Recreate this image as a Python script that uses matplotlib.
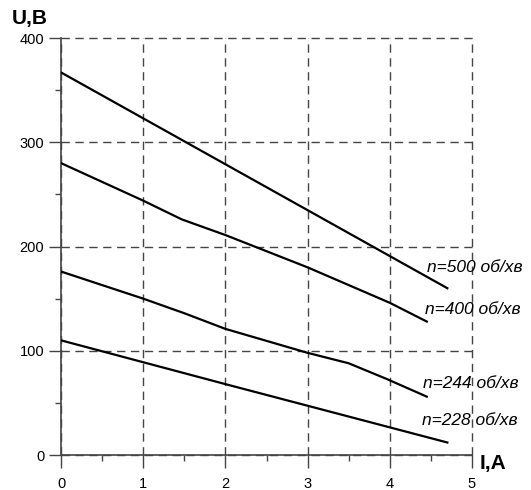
import matplotlib
matplotlib.use("Agg")
import matplotlib.pyplot as plt
from matplotlib.ticker import MultipleLocator

# curves U(I) for different speeds
i_500 = [0, 4.7]
u_500 = [367, 160]

i_400 = [0, 1, 1.47, 2, 3, 4, 4.45]
u_400 = [280, 244, 226, 211, 180, 146, 128]

i_244 = [0, 1, 1.5, 2, 3, 3.5, 3.96, 4.45]
u_244 = [176, 150, 136, 121, 98, 88, 73, 56]

i_228 = [0, 1, 2, 4.7]
u_228 = [110, 89, 68, 12]

labels = ["n=500 об/хв", "n=400 об/хв", "n=244 об/хв", "n=228 об/хв"]
label_x = [4.45, 4.43, 4.40, 4.39]
label_y = [180, 140, 69, 33]

plt.rcParams['font.family'] = ['Liberation Sans', 'DejaVu Sans']

fig = plt.figure(figsize=(5.31, 4.90), dpi=100)
ax = fig.add_axes([0.1149, 0.0714, 0.774, 0.851])

for xs, ys in [(i_500, u_500), (i_400, u_400), (i_244, u_244), (i_228, u_228)]:
    ax.plot(xs, ys, color='black', lw=1.6, zorder=3)

for t, x, y in zip(labels, label_x, label_y):
    ax.text(x, y, t, fontsize=12.5, style='italic', va='center', ha='left')

ax.set_xlim(0, 5)
ax.set_ylim(0, 400)
ax.xaxis.set_major_locator(MultipleLocator(1))
ax.xaxis.set_minor_locator(MultipleLocator(0.5))
ax.yaxis.set_major_locator(MultipleLocator(100))
ax.yaxis.set_minor_locator(MultipleLocator(50))

ax.grid(True, which='major', ls=(0, (6, 4)), color='#444444', lw=1.0)
for gl in ax.get_xgridlines() + ax.get_ygridlines():
    gl.set_clip_on(False)

for s in ['top', 'right']:
    ax.spines[s].set_visible(False)
for s in ['left', 'bottom']:
    ax.spines[s].set_color('#444444')
    ax.spines[s].set_linewidth(1.2)

ax.tick_params(which='major', direction='out', length=9, width=1.0, color='#444444',
               labelsize=10.5, pad=3)
ax.tick_params(which='minor', direction='out', length=4.5, width=1.0, color='#444444')
ax.tick_params(axis='x', pad=7)

fig.text(0.022, 0.962, "U,B", fontsize=15, fontweight='bold', va='center')
fig.text(0.903, 0.055, "I,A", fontsize=15, fontweight='bold', va='center')

fig.savefig("out.png", dpi=100)
